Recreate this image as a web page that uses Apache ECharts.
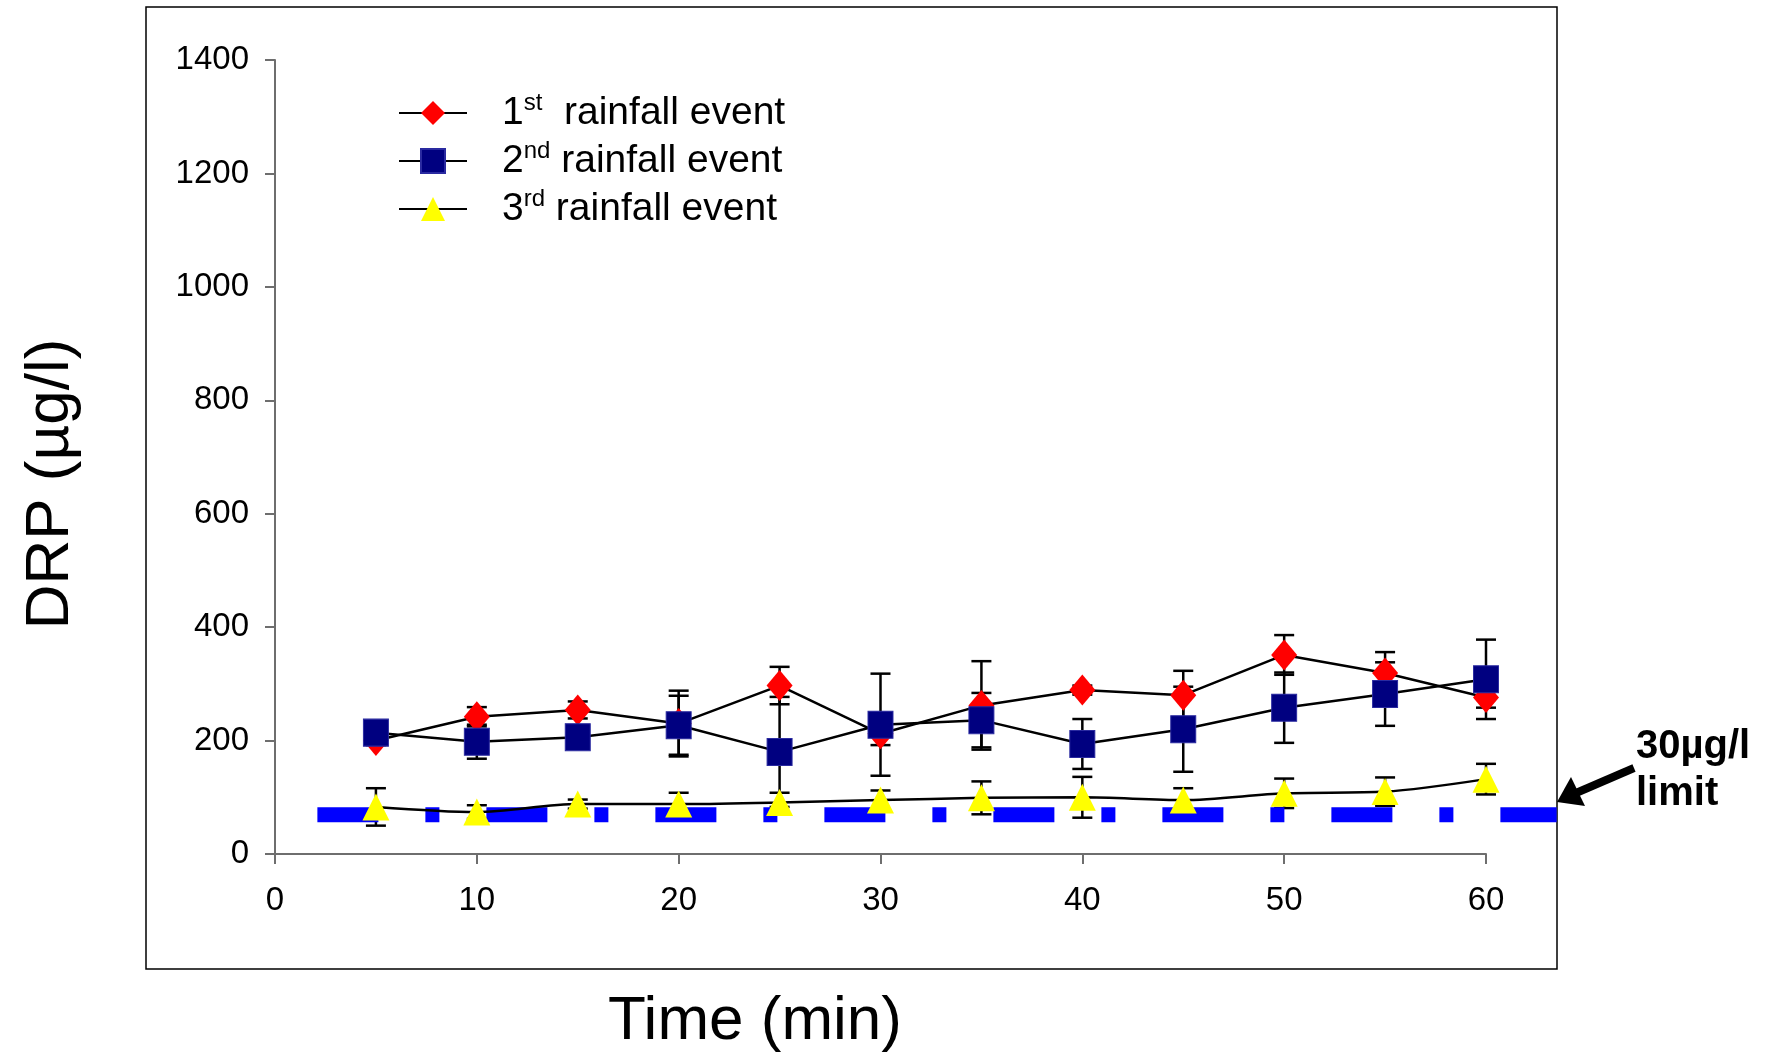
<!DOCTYPE html>
<html>
<head>
<meta charset="utf-8">
<title>DRP vs time</title>
<script src="https://cdn.jsdelivr.net/npm/echarts@6/dist/echarts.min.js"></script>
<style>
  html, body { margin: 0; padding: 0; background: #fff; }
  #chart { width: 1766px; height: 1058px; }
</style>
</head>
<body>
<div id="chart"></div>
<script>
// sampling times (min)
const times = [5, 10, 15, 20, 25, 30, 35, 40, 45, 50, 55, 60]
// DRP (ug/l), mean and error for each rainfall event
const event1 = [200, 242, 254, 230, 297, 212, 262, 289, 280, 351, 319, 276]
const event1Err = [8, 17, 15, 58, 33, 20, 78, 8, 43, 35, 37, 18]
const event2 = [214, 198, 206, 227, 180, 228, 236, 194, 220, 258, 282, 308]
const event2Err = [10, 30, 10, 52, 97, 90, 48, 44, 75, 62, 56, 70]
const event3 = [83, 74, 88, 88, 91, 95, 99, 100, 95, 107, 110, 132]
const event3Err = [33, 12, 8, 20, 17, 17, 29, 36, 21, 26, 25, 27]
// dashed limit line: level and time span
const limitLevel = 69
const limitSpan = [2.1, 63.5]
const seriesNames = ['1st rainfall event', '2nd rainfall event', '3rd rainfall event']
const legendLabels = {
  '1st rainfall event': '1{sup|st}  rainfall event',
  '2nd rainfall event': '2{sup|nd} rainfall event',
  '3rd rainfall event': '3{sup|rd} rainfall event'
}

const FONT = 'Liberation Sans, Arial, sans-serif'
const chart = echarts.init(document.getElementById('chart'))

// vertical error bar with caps, drawn through the axes
function errorSeries(values, errs) {
  return {
    type: 'custom',
    silent: true,
    z: 1,
    encode: { x: 0, y: [1, 2] },
    data: times.map((t, i) => [t, values[i] - errs[i], values[i] + errs[i]]),
    renderItem: (params, api) => {
      const lo = api.coord([api.value(0), api.value(1)])
      const hi = api.coord([api.value(0), api.value(2)])
      const w = 10
      const st = { stroke: '#000', lineWidth: 2.5 }
      return {
        type: 'group',
        children: [
          { type: 'line', shape: { x1: lo[0], y1: lo[1], x2: hi[0], y2: hi[1] }, style: st },
          { type: 'line', shape: { x1: lo[0] - w, y1: lo[1], x2: lo[0] + w, y2: lo[1] }, style: st },
          { type: 'line', shape: { x1: hi[0] - w, y1: hi[1], x2: hi[0] + w, y2: hi[1] }, style: st }
        ]
      }
    }
  }
}

function pairs(values) {
  return times.map((t, i) => [t, values[i]])
}

const option = {
  animation: false,
  backgroundColor: '#fff',
  textStyle: { fontFamily: FONT },
  grid: { left: 275, right: 280, top: 60, bottom: 204 },
  xAxis: {
    type: 'value',
    min: 0, max: 60, interval: 10,
    axisLine: { lineStyle: { color: '#6e6e6e', width: 2 } },
    axisTick: { length: 10, lineStyle: { color: '#6e6e6e', width: 2 } },
    axisLabel: { color: '#000', fontSize: 33, margin: 30, fontFamily: FONT },
    splitLine: { show: false }
  },
  yAxis: {
    type: 'value',
    min: 0, max: 1400, interval: 200,
    axisLine: { show: true, lineStyle: { color: '#6e6e6e', width: 2 } },
    axisTick: { show: true, length: 10, lineStyle: { color: '#6e6e6e', width: 2 } },
    axisLabel: { color: '#000', fontSize: 33, margin: 26, fontFamily: FONT, formatter: (v) => String(v) },
    splitLine: { show: false }
  },
  legend: {
    data: seriesNames,
    orient: 'vertical',
    left: 393,
    top: 86,
    itemWidth: 68,
    itemHeight: 30,
    itemGap: 4,
    formatter: (name) => legendLabels[name],
    textStyle: {
      color: '#000',
      fontSize: 39,
      lineHeight: 44,
      fontFamily: FONT,
      padding: [0, 0, 0, 30],
      rich: {
        sup: { fontSize: 24, lineHeight: 44, verticalAlign: 'top', padding: [0, 0, 16, 0], fontFamily: FONT, color: '#000' }
      }
    }
  },
  graphic: [
    {
      type: 'rect',
      shape: { x: 146, y: 7, width: 1411, height: 962 },
      style: { fill: 'none', stroke: '#000', lineWidth: 1.5 },
      silent: true
    },
    {
      type: 'text',
      x: 51, y: 484, rotation: Math.PI / 2,
      style: { text: 'DRP (µg/l)', fontSize: 62, fontFamily: FONT, fill: '#000', align: 'center', verticalAlign: 'middle' }
    },
    {
      type: 'text',
      x: 755, y: 1022,
      style: { text: 'Time (min)', fontSize: 62, fontFamily: FONT, fill: '#000', align: 'center', verticalAlign: 'middle' }
    },
    {
      type: 'text',
      x: 1636, y: 767,
      style: { text: '30µg/l', fontSize: 40, fontWeight: 'bold', fontFamily: FONT, fill: '#000', align: 'left', verticalAlign: 'bottom' }
    },
    {
      type: 'text',
      x: 1636, y: 814,
      style: { text: 'limit', fontSize: 40, fontWeight: 'bold', fontFamily: FONT, fill: '#000', align: 'left', verticalAlign: 'bottom' }
    },
    {
      type: 'line',
      shape: { x1: 1634, y1: 768, x2: 1576, y2: 793 },
      style: { stroke: '#000', lineWidth: 8 }
    },
    {
      type: 'polygon',
      shape: { points: [[1557, 802], [1585, 806], [1571, 777]] },
      style: { fill: '#000' }
    }
  ],
  series: [
    {
      name: 'limit',
      type: 'custom',
      silent: true,
      clip: false,
      z: 2,
      data: [[limitSpan[0], limitSpan[1], limitLevel]],
      encode: { x: [0, 1], y: 2 },
      renderItem: (params, api) => {
        const a = api.coord([api.value(0), api.value(2)])
        const b = api.coord([api.value(1), api.value(2)])
        return {
          type: 'line',
          shape: { x1: a[0], y1: a[1], x2: b[0], y2: b[1] },
          style: { stroke: '#0000ff', lineWidth: 15, lineDash: [61, 47, 14, 47], lineCap: 'butt' }
        }
      }
    },
    errorSeries(event1, event1Err),
    errorSeries(event2, event2Err),
    errorSeries(event3, event3Err),
    {
      name: seriesNames[0],
      type: 'line',
      z: 3,
      data: pairs(event1),
      symbol: 'diamond',
      symbolSize: [26, 31],
      itemStyle: { color: '#ff0000' },
      lineStyle: { color: '#000', width: 2.5 }
    },
    {
      name: seriesNames[1],
      type: 'line',
      z: 4,
      data: pairs(event2),
      symbol: 'rect',
      symbolSize: [25, 27],
      itemStyle: { color: '#000080', borderColor: '#2a2aa0', borderWidth: 1 },
      lineStyle: { color: '#000', width: 2.5 }
    },
    {
      name: seriesNames[2],
      type: 'line',
      z: 5,
      smooth: 0.3,
      data: pairs(event3),
      symbol: 'triangle',
      symbolSize: [27, 27],
      itemStyle: { color: '#ffff00' },
      lineStyle: { color: '#000', width: 2.5 }
    }
  ]
}

chart.setOption(option)
</script>
</body>
</html>
